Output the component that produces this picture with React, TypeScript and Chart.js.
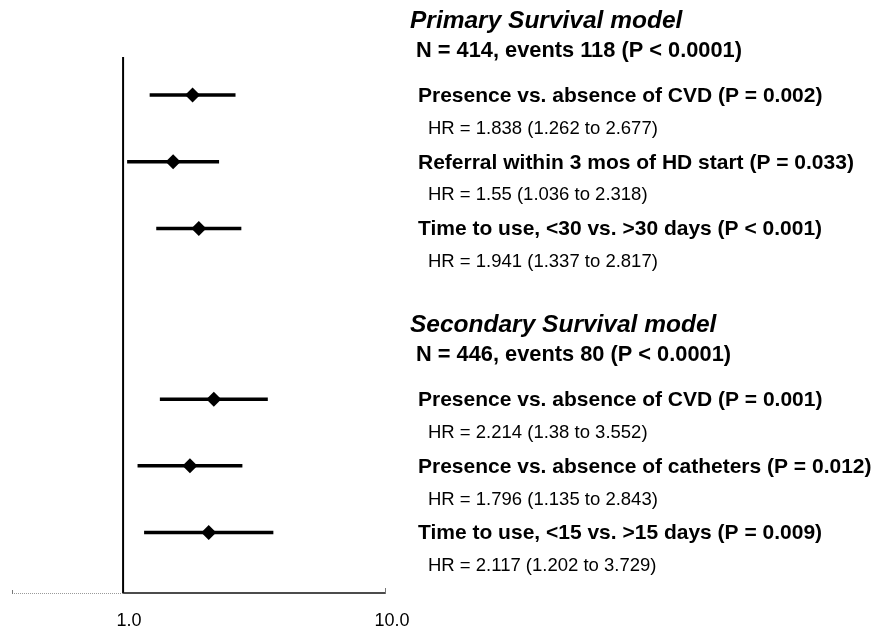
import React, { useEffect, useRef } from "react";
import { Chart, registerables } from "chart.js";

Chart.register(...registerables);

// ---- data ----
const groupTitles = ["Primary Survival model", "Secondary Survival model"];
const groupStats = [
  "N = 414, events 118 (P < 0.0001)",
  "N = 446, events 80 (P < 0.0001)",
];
const rowGroup = [0, 0, 0, 1, 1, 1];
const rowLabels = [
  "Presence vs. absence of CVD (P = 0.002)",
  "Referral within 3 mos of HD start (P = 0.033)",
  "Time to use, <30 vs. >30 days (P < 0.001)",
  "Presence vs. absence of CVD (P = 0.001)",
  "Presence vs. absence of catheters (P = 0.012)",
  "Time to use, <15 vs. >15 days (P = 0.009)",
];
const hazardRatios = [1.838, 1.55, 1.941, 2.214, 1.796, 2.117];
const ciLower = [1.262, 1.036, 1.337, 1.38, 1.135, 1.202];
const ciUpper = [2.677, 2.318, 2.817, 3.552, 2.843, 3.729];
const xTickValues = [1, 10];

// ---- layout helpers (row units) ----
const GROUP_GAP = 4.56;
const FONT = "'Liberation Sans', Arial, Helvetica, sans-serif";

function rowPos(i: number): number {
  let idx = 0;
  for (let k = 0; k < i; k++) if (rowGroup[k] === rowGroup[i]) idx++;
  return rowGroup[i] * GROUP_GAP + idx;
}

const decorPlugin = {
  id: "forestDecor",
  beforeDatasetsDraw(chart: any) {
    const { ctx, chartArea, scales } = chart;
    const xs = scales.x;
    const x1 = xs.getPixelForValue(1);
    ctx.save();
    // reference line at HR = 1
    ctx.strokeStyle = "#000";
    ctx.lineWidth = 2;
    ctx.beginPath();
    ctx.moveTo(x1, chartArea.top);
    ctx.lineTo(x1, chartArea.bottom);
    ctx.stroke();
    // x axis: dotted part left of 1
    const yb = chartArea.bottom;
    ctx.strokeStyle = "#9a9a9a";
    ctx.lineWidth = 1;
    ctx.setLineDash([1, 1]);
    ctx.beginPath();
    ctx.moveTo(chartArea.left, yb + 0.5);
    ctx.lineTo(x1, yb + 0.5);
    ctx.stroke();
    ctx.setLineDash([]);
    // solid part right of 1
    ctx.strokeStyle = "#111";
    ctx.lineWidth = 1.5;
    ctx.beginPath();
    ctx.moveTo(x1, yb);
    ctx.lineTo(chartArea.right, yb);
    ctx.stroke();
    // small end ticks
    ctx.lineWidth = 1;
    ctx.strokeStyle = "#777";
    ctx.beginPath();
    ctx.moveTo(chartArea.left + 0.5, yb - 3);
    ctx.lineTo(chartArea.left + 0.5, yb + 1);
    ctx.moveTo(chartArea.right - 0.5, yb - 5);
    ctx.lineTo(chartArea.right - 0.5, yb + 1);
    ctx.stroke();
    ctx.restore();
  },
  afterDraw(chart: any) {
    const { ctx, chartArea, scales } = chart;
    const xs = scales.x;
    const ys = scales.y;
    const r = chartArea.right;
    const dy = 1;
    ctx.save();
    ctx.fillStyle = "#000";
    // x tick labels
    ctx.textAlign = "center";
    ctx.textBaseline = "middle";
    ctx.font = `18px ${FONT}`;
    xTickValues.forEach((v) => {
      ctx.fillText(v.toFixed(1), xs.getPixelForValue(v) + 6, chartArea.bottom + 28);
    });
    ctx.textAlign = "left";
    groupTitles.forEach((t, gi) => {
      const base = gi * GROUP_GAP;
      ctx.font = `italic bold 24.5px ${FONT}`;
      ctx.fillText(t, r + 24, ys.getPixelForValue(base - 1.125) + dy);
      ctx.font = `bold 21.8px ${FONT}`;
      ctx.fillText(groupStats[gi], r + 30, ys.getPixelForValue(base - 0.675) + dy);
    });
    rowLabels.forEach((lab, i) => {
      const p = rowPos(i);
      ctx.font = `bold 21px ${FONT}`;
      ctx.fillText(lab, r + 32, ys.getPixelForValue(p) + dy);
      ctx.font = `18.5px ${FONT}`;
      ctx.fillText(
        `HR = ${hazardRatios[i]} (${ciLower[i]} to ${ciUpper[i]})`,
        r + 42,
        ys.getPixelForValue(p + 0.49) + dy
      );
    });
    ctx.restore();
  },
};

export default function App() {
  const ref = useRef<HTMLCanvasElement | null>(null);

  useEffect(() => {
    document.body.style.margin = "0";
    const canvas = ref.current;
    if (!canvas) return;

    const pointData = hazardRatios.map((v, i) => ({ x: v, y: rowPos(i) }));
    const ciDatasets = hazardRatios.map((_, i) => ({
      label: `ci${i}`,
      data: [
        { x: ciLower[i], y: rowPos(i) },
        { x: ciUpper[i], y: rowPos(i) },
      ],
      showLine: true,
      borderColor: "#000",
      borderWidth: 3.5,
      pointRadius: 0,
      pointHoverRadius: 0,
    }));

    const chart = new Chart(canvas, {
      type: "scatter",
      data: {
        datasets: [
          {
            label: "HR",
            data: pointData,
            pointStyle: "rectRot",
            pointRadius: 7.5,
            backgroundColor: "#000",
            borderColor: "#000",
            borderWidth: 0,
          },
          ...ciDatasets,
        ] as any,
      },
      options: {
        animation: false,
        responsive: false,
        layout: { padding: { left: 12, right: 499, top: 57, bottom: 37 } },
        plugins: {
          legend: { display: false },
          tooltip: { enabled: false },
        },
        scales: {
          x: {
            type: "logarithmic",
            display: false,
            min: 0.378,
            max: 10,
          },
          y: {
            type: "linear",
            display: false,
            reverse: true,
            min: -0.57,
            max: 7.466,
          },
        },
      } as any,
      plugins: [decorPlugin],
    });
    return () => chart.destroy();
  }, []);

  return (
    <div style={{ width: 885, height: 630, background: "#fff" }}>
      <canvas ref={ref} width={885} height={630} style={{ display: "block" }} />
    </div>
  );
}
